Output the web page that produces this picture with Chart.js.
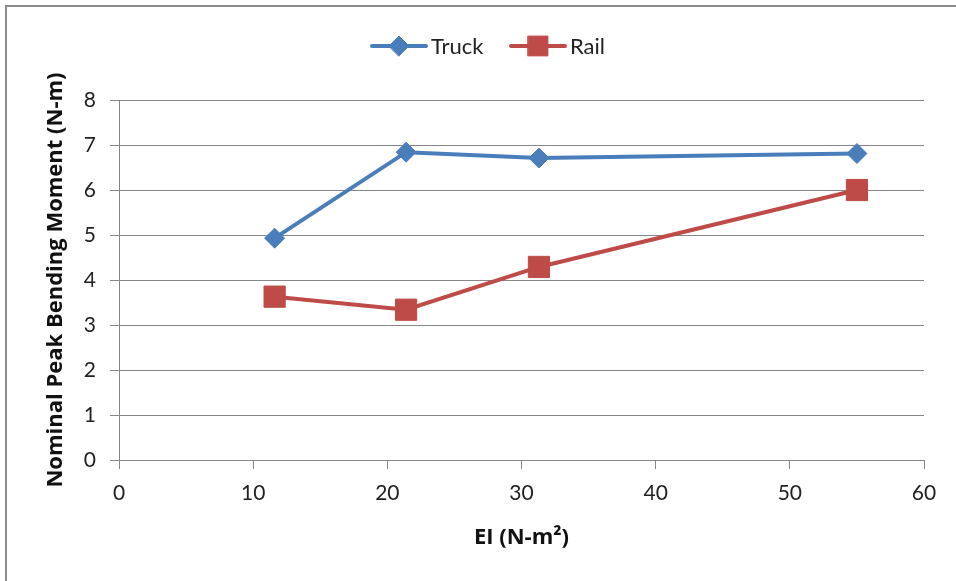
<!DOCTYPE html>
<html>
<head>
<meta charset="utf-8">
<script src="https://cdn.jsdelivr.net/npm/chart.js@4/dist/chart.umd.min.js"></script>
<style>
  html, body { margin: 0; padding: 0; background: #fff; }
  #wrap { position: relative; width: 956px; height: 581px; overflow: hidden; }
  #frame { position: absolute; left: 5px; top: 5px; width: 1000px; height: 1000px;
           border-left: 2px solid #8c8c8c; border-top: 2px solid #8c8c8c; }
  canvas { position: absolute; left: 0; top: 0; }
</style>
</head>
<body>
<div id="wrap">
  <div id="frame"></div>
  <canvas id="chart" width="956" height="581"></canvas>
</div>
<script>
// EI values (N-m^2) and peak moments
const eiValues = [11.6, 21.4, 31.3, 55.0];
const truckMoments = [4.93, 6.84, 6.71, 6.81];
const railMoments = [3.63, 3.34, 4.29, 6.0];

const seriesNames = ['Truck', 'Rail'];
const xTitle = 'EI (N-m\u00B2)';
const yTitle = 'Nominal Peak Bending Moment (N-m)';

const blue = '#4a7ebb';
const red = '#be4b48';
const gridGray = '#868686';
const fontFamily = 'Lato, "Open Sans", sans-serif';
const titleFamily = '"Open Sans", sans-serif';

function toPoints(xs, ys) {
    return xs.map((x, i) => ({ x: x, y: ys[i] }));
}

// legend drawn by hand so each entry shows line + marker like Excel
const lineLegend = {
    id: 'lineLegend',
    afterDraw(chart) {
        const ctx = chart.ctx;
        const y = 46;
        const entries = [
            { x: 372, color: blue, style: 'rectRot', r: 10, label: seriesNames[0] },
            { x: 511, color: red, style: 'rect', r: 14, label: seriesNames[1] }
        ];
        ctx.save();
        entries.forEach(e => {
            ctx.strokeStyle = e.color;
            ctx.lineWidth = 4;
            ctx.lineCap = 'round';
            ctx.beginPath();
            ctx.moveTo(e.x, y);
            ctx.lineTo(e.x + 54, y);
            ctx.stroke();
            ctx.fillStyle = e.color;
            ctx.strokeStyle = e.color;
            ctx.lineWidth = 1;
            Chart.helpers.drawPoint(ctx, { pointStyle: e.style, radius: e.r, borderWidth: 1 }, e.x + 27, y);
            ctx.fillStyle = '#222';
            ctx.font = '22px ' + fontFamily;
            ctx.textBaseline = 'middle';
            ctx.textAlign = 'left';
            ctx.fillText(e.label, e.x + 59, y + 1);
        });
        ctx.restore();
    }
};

const ctx = document.getElementById('chart').getContext('2d');
new Chart(ctx, {
    type: 'scatter',
    data: {
        datasets: [
            {
                label: seriesNames[0],
                data: toPoints(eiValues, truckMoments),
                showLine: true,
                borderColor: blue,
                backgroundColor: blue,
                borderWidth: 4,
                pointStyle: 'rectRot',
                pointRadius: 10,
                pointBorderWidth: 1,
                pointHoverRadius: 10
            },
            {
                label: seriesNames[1],
                data: toPoints(eiValues, railMoments),
                showLine: true,
                borderColor: red,
                backgroundColor: red,
                borderWidth: 4,
                pointStyle: 'rect',
                pointRadius: 15,
                pointBorderWidth: 1,
                pointHoverRadius: 15
            }
        ]
    },
    options: {
        responsive: false,
        animation: false,
        events: [],
        layout: { padding: { top: 100, right: 32, left: 33, bottom: 26 } },
        plugins: {
            legend: { display: false },
            tooltip: { enabled: false }
        },
        scales: {
            x: {
                type: 'linear',
                min: 0,
                max: 60,
                ticks: { stepSize: 10, color: '#222', padding: 12, font: { family: fontFamily, size: 21 } },
                grid: { drawOnChartArea: false, drawTicks: true, tickLength: 9, color: gridGray },
                border: { color: gridGray, width: 1 },
                title: { display: true, text: xTitle, color: '#111', padding: { top: 8, bottom: 4 },
                         font: { family: titleFamily, size: 22, weight: 'bold' } },
                afterFit(scale) { scale.height = 95; }
            },
            y: {
                min: 0,
                max: 8,
                ticks: { stepSize: 1, color: '#222', padding: 14, font: { family: fontFamily, size: 21 } },
                grid: { color: gridGray, tickLength: 9, lineWidth: 1 },
                border: { color: gridGray, width: 1 },
                title: { display: true, text: yTitle, color: '#111', padding: { top: 10, bottom: 10 },
                         font: { family: titleFamily, size: 22, weight: 'bold' } },
                afterFit(scale) { scale.width = 86; }
            }
        }
    },
    plugins: [lineLegend]
});
</script>
</body>
</html>
